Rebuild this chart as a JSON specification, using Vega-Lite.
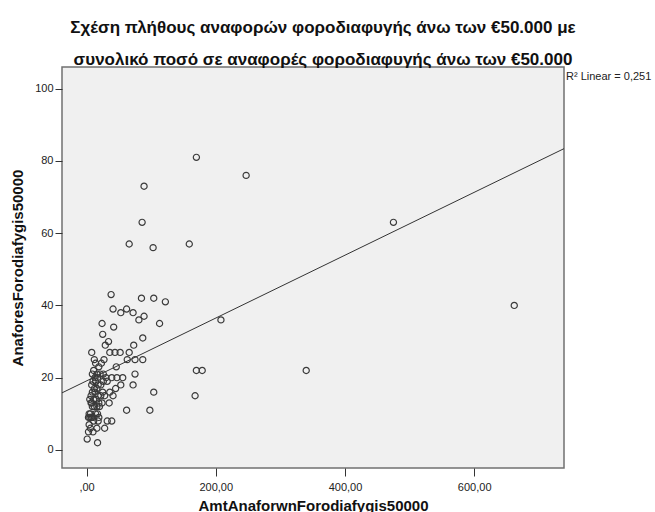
{
  "$schema": "https://vega.github.io/schema/vega-lite/v6.json",
  "autosize": "none",
  "width": 502,
  "height": 401,
  "padding": {"left": 62, "top": 67, "right": 91, "bottom": 44},
  "background": "white",
  "config": {
    "font": "Liberation Sans",
    "view": {"fill": "#f0f0f0", "stroke": "#707070", "strokeWidth": 1.5}
  },
  "title": {
    "text": ["Σχέση πλήθους αναφορών φοροδιαφυγής άνω των €50.000 με", "συνολικό ποσό σε αναφορές φοροδιαφυγής άνω των €50.000"],
    "font": "Liberation Sans",
    "fontSize": 17,
    "fontWeight": "bold",
    "color": "#111",
    "lineHeight": 32,
    "offset": -2,
    "dx": 10,
    "anchor": "middle"
  },
  "datasets": {
    "points": [
      {"amt": 170, "count": 81}, {"amt": 247, "count": 76}, {"amt": 89, "count": 73}, {"amt": 86, "count": 63},
      {"amt": 66, "count": 57}, {"amt": 103, "count": 56}, {"amt": 159, "count": 57}, {"amt": 475, "count": 63},
      {"amt": 662, "count": 40}, {"amt": 340, "count": 22}, {"amt": 208, "count": 36},
      {"amt": 38, "count": 43}, {"amt": 85, "count": 42}, {"amt": 104, "count": 42}, {"amt": 122, "count": 41},
      {"amt": 41, "count": 39}, {"amt": 53, "count": 38}, {"amt": 62, "count": 39}, {"amt": 72, "count": 38},
      {"amt": 81, "count": 36}, {"amt": 89, "count": 37},
      {"amt": 113, "count": 35}, {"amt": 24, "count": 35}, {"amt": 42, "count": 34}, {"amt": 25, "count": 32},
      {"amt": 87, "count": 31}, {"amt": 34, "count": 30}, {"amt": 29, "count": 29}, {"amt": 73, "count": 29},
      {"amt": 8, "count": 27}, {"amt": 36, "count": 27}, {"amt": 44, "count": 27}, {"amt": 52, "count": 27}, {"amt": 66, "count": 27},
      {"amt": 12, "count": 25}, {"amt": 27, "count": 25}, {"amt": 63, "count": 25}, {"amt": 75, "count": 25}, {"amt": 87, "count": 25},
      {"amt": 46, "count": 23}, {"amt": 11, "count": 22}, {"amt": 16, "count": 21},
      {"amt": 75, "count": 21}, {"amt": 170, "count": 22}, {"amt": 179, "count": 22},
      {"amt": 21, "count": 21}, {"amt": 26, "count": 21}, {"amt": 39, "count": 20}, {"amt": 47, "count": 20}, {"amt": 56, "count": 20},
      {"amt": 72, "count": 18}, {"amt": 53, "count": 18}, {"amt": 32, "count": 19}, {"amt": 36, "count": 16}, {"amt": 45, "count": 17},
      {"amt": 104, "count": 16}, {"amt": 168, "count": 15}, {"amt": 41, "count": 15}, {"amt": 35, "count": 13},
      {"amt": 62, "count": 11}, {"amt": 98, "count": 11},
      {"amt": 32, "count": 8}, {"amt": 39, "count": 8}, {"amt": 18, "count": 8}, {"amt": 5, "count": 9},
      {"amt": 28, "count": 6}, {"amt": 16, "count": 6}, {"amt": 6, "count": 6}, {"amt": 3, "count": 5},
      {"amt": 1, "count": 3}, {"amt": 17, "count": 2},
      {"amt": 9, "count": 21}, {"amt": 13, "count": 20}, {"amt": 17, "count": 20}, {"amt": 10, "count": 19},
      {"amt": 14, "count": 19}, {"amt": 18, "count": 18}, {"amt": 8, "count": 18}, {"amt": 12, "count": 17},
      {"amt": 16, "count": 17}, {"amt": 9, "count": 16}, {"amt": 13, "count": 16}, {"amt": 18, "count": 15},
      {"amt": 7, "count": 15}, {"amt": 11, "count": 14}, {"amt": 15, "count": 14}, {"amt": 19, "count": 13},
      {"amt": 8, "count": 13}, {"amt": 12, "count": 12}, {"amt": 16, "count": 12}, {"amt": 9, "count": 12},
      {"amt": 4, "count": 10}, {"amt": 6, "count": 10}, {"amt": 8, "count": 9}, {"amt": 10, "count": 9},
      {"amt": 14, "count": 10}, {"amt": 17, "count": 10}, {"amt": 19, "count": 9}, {"amt": 3, "count": 9},
      {"amt": 7, "count": 9}, {"amt": 11, "count": 8}, {"amt": 22, "count": 15}, {"amt": 25, "count": 16},
      {"amt": 20, "count": 12}, {"amt": 24, "count": 13}, {"amt": 22, "count": 18}, {"amt": 26, "count": 19},
      {"amt": 28, "count": 15}, {"amt": 30, "count": 20}, {"amt": 19, "count": 23}, {"amt": 23, "count": 24},
      {"amt": 14, "count": 24}, {"amt": 7, "count": 13}, {"amt": 5, "count": 14}, {"amt": 10, "count": 5},
      {"amt": 4, "count": 7}
    ],
    "fit": [
      {"amt": -38, "count": 15.8},
      {"amt": 739, "count": 83.4}
    ],
    "label": [
      {"amt": 739, "count": 103.2, "text": "R² Linear = 0,251"}
    ]
  },
  "layer": [
    {
      "data": {"name": "fit"},
      "mark": {"type": "line", "color": "#333333", "strokeWidth": 1, "clip": true},
      "encoding": {
        "x": {
          "field": "amt", "type": "quantitative",
          "scale": {"domain": [-38, 739], "nice": false, "zero": false},
          "axis": {
            "title": "AmtAnaforwnForodiafygis50000",
            "titleFont": "Liberation Sans", "titleFontSize": 15, "titleFontWeight": "bold", "titleColor": "#111",
            "titlePadding": 6,
            "values": [0, 200, 400, 600],
            "labelExpr": "datum.value == 0 ? ',00' : replace(format(datum.value, '.2f'), '.', ',')",
            "labelFont": "Liberation Sans", "labelFontSize": 11, "labelColor": "#222", "labelPadding": 5,
            "domain": false, "grid": false, "tickSize": 8, "tickColor": "#333", "tickWidth": 1
          }
        },
        "y": {
          "field": "count", "type": "quantitative",
          "scale": {"domain": [-5, 106], "nice": false, "zero": false},
          "axis": {
            "title": "AnaforesForodiafygis50000",
            "titleFont": "Liberation Sans", "titleFontSize": 15, "titleFontWeight": "bold", "titleColor": "#111",
            "titlePadding": 9,
            "values": [0, 20, 40, 60, 80, 100],
            "labelFont": "Liberation Sans", "labelFontSize": 11, "labelColor": "#222", "labelPadding": 2,
            "domain": false, "grid": false, "tickSize": 7, "tickColor": "#333", "tickWidth": 1
          }
        }
      }
    },
    {
      "data": {"name": "points"},
      "mark": {"type": "point", "shape": "circle", "filled": false, "size": 38, "stroke": "#3a3a3a", "strokeWidth": 1.2, "opacity": 1},
      "encoding": {
        "x": {"field": "amt", "type": "quantitative"},
        "y": {"field": "count", "type": "quantitative"}
      }
    },
    {
      "data": {"name": "label"},
      "mark": {"type": "text", "align": "left", "baseline": "middle", "dx": 2, "fontSize": 11, "font": "Liberation Sans", "color": "#222"},
      "encoding": {
        "x": {"field": "amt", "type": "quantitative"},
        "y": {"field": "count", "type": "quantitative"},
        "text": {"field": "text"}
      }
    }
  ]
}
